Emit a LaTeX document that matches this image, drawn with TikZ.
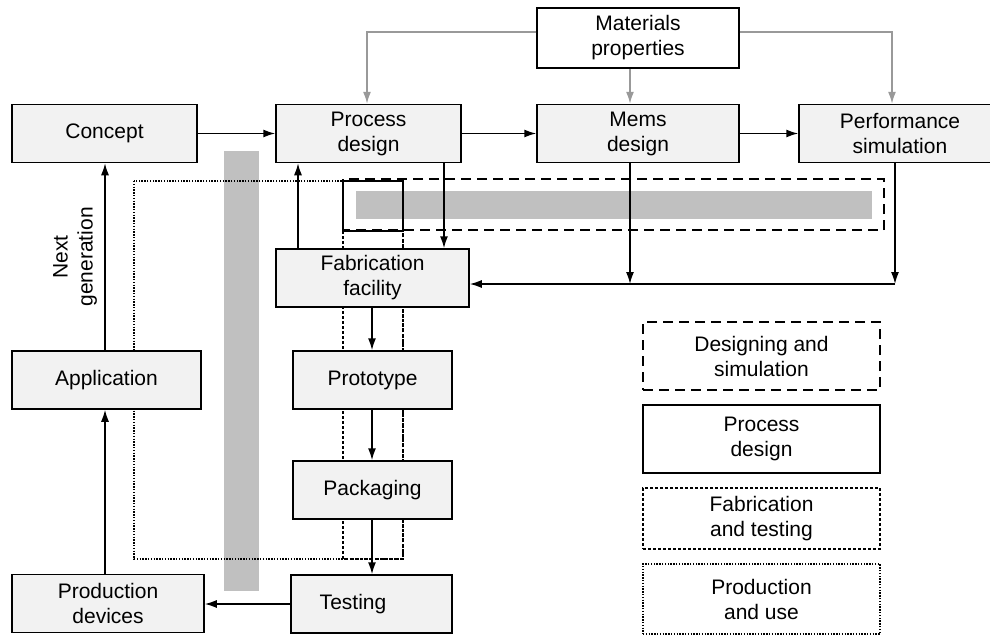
\documentclass[tikz,border=0pt]{standalone}
\usepackage{fontspec}
\setmainfont{Liberation Sans}
\usetikzlibrary{arrows.meta,calc}
\definecolor{boxfill}{HTML}{F2F2F2}
\definecolor{barfill}{HTML}{C0C0C0}
\definecolor{grayline}{HTML}{999999}
\tikzset{
  blk/.style={draw=black, line width=1.5pt, fill=boxfill, inner sep=0pt, align=center, font=\fontsize{21}{25}\selectfont},
  legbox/.style={draw=black, inner sep=0pt, align=center, minimum width=237pt, font=\fontsize{21}{25}\selectfont},
  arr/.style={line width=1.5pt, -{Latex[length=12pt,width=8pt]}},
  grayarr/.style={draw=grayline, line width=1.5pt, -{Latex[length=12pt,width=8pt]}},
  longdash/.style={line width=1.5pt, dash pattern=on 10pt off 6pt},
  finedash/.style={line width=1.3pt, dash pattern=on 3pt off 2pt},
  finedot/.style={line width=1.3pt, dash pattern=on 1.4pt off 1.4pt},
  grbar/.style={fill=barfill, draw=none}
}
\begin{document}
\begin{tikzpicture}[x=1pt, y=-1pt]
\useasboundingbox (0,0) rectangle (990,637);
\clip (0,0) rectangle (990,637);

% gray bars
\fill[grbar] (224,151) rectangle (259,591);
\fill[grbar] (356,191) rectangle (872,219);

% region rectangles
\draw[finedot] (134,181) rectangle (403,559);
\draw[finedash] (343,181) rectangle (403,559);
\draw[longdash] (343,179) rectangle (884,230);
\draw[line width=1.5pt] (343,181) rectangle (403,231);

% boxes
\node[blk, fill=white, minimum width=202pt, minimum height=60pt] (mat) at (638,38) {Materials\\properties};
\node[blk, minimum width=185pt, minimum height=58pt] (concept) at (104.5,133.5) {Concept};
\node[blk, minimum width=185pt, minimum height=58pt] (process) at (368.5,133.5) {Process\\design};
\node[blk, minimum width=202pt, minimum height=58pt] (mems) at (638,133.5) {Mems\\design};
\node[blk, minimum width=202pt, minimum height=58pt] (perf) at (900,133.5) {Performance\\simulation};
\node[blk, minimum width=193pt, minimum height=58pt] (fab) at (372.5,278) {Fabrication\\facility};
\node[blk, minimum width=159pt, minimum height=58pt] (proto) at (372.5,380) {Prototype};
\node[blk, minimum width=159pt, minimum height=58pt] (pack) at (372.5,490) {Packaging};
\node[blk, minimum width=161pt, minimum height=58pt] (test) at (371.5,604) {Testing\hspace*{37pt}};
\node[blk, minimum width=189pt, minimum height=58pt] (app) at (106.5,380) {Application};
\node[blk, minimum width=192pt, minimum height=58pt] (prod) at (108,603.5) {Production\\devices};

% legend
\node[legbox, longdash, minimum height=68pt] (leg1) at (761.5,356) {Designing and\\simulation};
\node[legbox, line width=1.5pt, minimum height=68pt] (leg2) at (761.5,439) {Process\\design};
\node[legbox, finedash, minimum height=61pt] (leg3) at (761.5,518.5) {Fabrication\\and testing};
\node[legbox, finedot, minimum height=70pt] (leg4) at (761.5,599) {Production\\and use};

% gray arrows from materials
\draw[grayarr] (mat.west |- 0,32) -| (process.north -| 367,0);
\draw[grayarr] (mat.south -| 630,0) -- (mems.north -| 630,0);
\draw[grayarr] (mat.east |- 0,32) -| (perf.north -| 892,0);

% top row
\draw[arr] (concept.east) -- (process.west);
\draw[arr] (process.east) -- (mems.west);
\draw[arr] (mems.east) -- (perf.west);

% feedback to fabrication
\coordinate (j1) at (630,284);
\coordinate (j2) at (895,284);
\draw[arr] (mems.south -| j1) -- (j1);
\draw[arr] (perf.south -| j2) -- (j2);
\draw[arr] (j2) -- (fab.east |- j2);

\draw[arr] (fab.north -| 298,0) -- (process.south -| 298,0);
\draw[arr] (process.south -| 444,0) -- (fab.north -| 444,0);

% fabrication chain
\draw[arr] (fab.south -| 372,0) -- (proto.north -| 372,0);
\draw[arr] (proto.south -| 372,0) -- (pack.north -| 372,0);
\draw[arr] (pack.south -| 372,0) -- (test.north -| 372,0);
\draw[arr] (test.west) -- (prod.east |- test.west);

% left column
\draw[arr] (prod.north -| 105,0) -- (app.south -| 105,0);
\draw[arr] (app.north -| 105,0) -- (concept.south -| 105,0) node[pos=0.5, left=4pt, anchor=south, rotate=90, align=center, font=\fontsize{21}{25}\selectfont] {Next\\generation};
\end{tikzpicture}
\end{document}
